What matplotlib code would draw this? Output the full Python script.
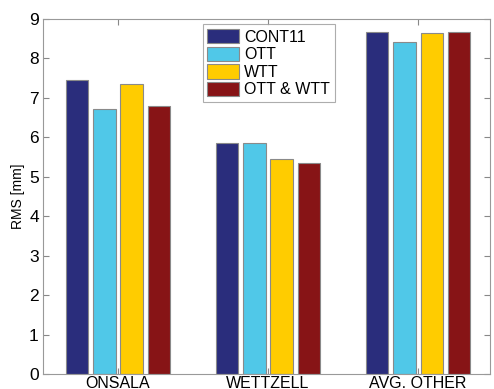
import numpy as np
import matplotlib.pyplot as plt

plt.rcParams['font.family'] = ['Liberation Sans', 'DejaVu Sans']

# RMS per station and solution
stations = ['ONSALA', 'WETTZELL', 'AVG. OTHER']
series = ['CONT11', 'OTT', 'WTT', 'OTT & WTT']
cont11 = [7.45, 5.86, 8.66]
ott = [6.71, 5.86, 8.43]
wtt = [7.34, 5.44, 8.64]
ott_wtt = [6.80, 5.34, 8.66]
colors = ['#2a2d7c', '#50c8e8', '#ffcc00', '#871416']

fig = plt.figure(figsize=(4.94, 3.89), dpi=100)
ax = fig.add_axes([0.087, 0.0386, 0.905, 0.9125])

x = np.arange(1, len(stations) + 1)
width = 0.15
offsets = np.array([-1.5, -0.5, 0.5, 1.5]) * 0.183
for vals, name, col, off in zip([cont11, ott, wtt, ott_wtt], series, colors, offsets):
    ax.bar(x + off, vals, width, color=col, edgecolor='#8a8a8a', linewidth=0.8, label=name)

ax.set_xlim(0.5, 3.48)
ax.set_ylim(0, 9)
ax.set_xticks(x)
ax.set_xticklabels(stations, fontsize=11.5)
ax.set_yticks(np.arange(0, 10))
ax.tick_params(axis='y', labelsize=12.5)
ax.tick_params(direction='in', top=True, right=True, length=4, color='#888888', pad=3)
ax.tick_params(axis='x', pad=1.5)
ax.set_ylabel('RMS [mm]', fontsize=10, labelpad=3)
for s in ax.spines.values():
    s.set_color('#999999')

leg = ax.legend(loc='upper center', bbox_to_anchor=(0.505, 0.985), fontsize=11.5,
                frameon=True, fancybox=False, edgecolor='#999999',
                handlelength=2.0, handleheight=1.0, handletextpad=0.3,
                labelspacing=0.12, borderpad=0.3, borderaxespad=0)
leg.get_frame().set_linewidth(0.8)

fig.savefig('out.png', dpi=100)
